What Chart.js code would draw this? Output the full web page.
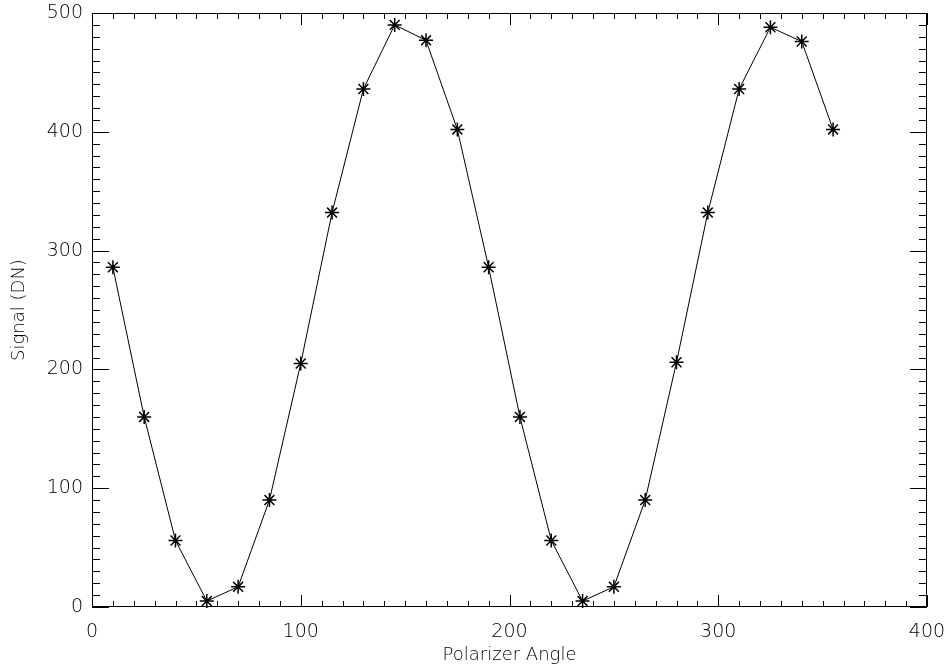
<!DOCTYPE html>
<html>
<head>
<meta charset="utf-8">
<script src="https://cdn.jsdelivr.net/npm/chart.js@4"></script>
<style>
  html, body { margin: 0; padding: 0; background: #fff; }
  canvas { display: block; }
</style>
</head>
<body>
<canvas id="polChart" width="949" height="667"></canvas>
<script>
// polarizer angle (deg) and measured signal (DN)
const angles = [10, 25, 40, 55, 70, 85, 100, 115, 130, 145, 160, 175,
                190, 205, 220, 235, 250, 265, 280, 295, 310, 325, 340, 355];
const signal = [286, 160, 56, 5, 17, 90, 205, 332, 436, 490, 477, 402,
                286, 160, 56, 5, 17, 90, 206, 332, 436, 488, 476, 402];
const xTicks = [0, 100, 200, 300, 400];
const yTicks = [0, 100, 200, 300, 400, 500];

const fontFamily = '"DejaVu Sans", sans-serif';
const inkColor = '#000';

// IDL style box with inward major/minor ticks on all four sides
const idlFrame = {
    id: 'idlFrame',
    afterDatasetsDraw(chart) {
        const ctx = chart.ctx;
        const a = chart.chartArea;
        const xs = chart.scales.x, ys = chart.scales.y;
        ctx.save();
        ctx.strokeStyle = '#000';
        ctx.lineWidth = 1;
        ctx.strokeRect(a.left + 0.5, a.top + 0.5, a.right - a.left - 1, a.bottom - a.top - 1);
        ctx.beginPath();
        for (let v = 0; v <= 400; v += 10) {
            const px = Math.round(xs.getPixelForValue(v)) + 0.5;
            const len = v % 100 === 0 ? 12 : 6;
            ctx.moveTo(px, a.bottom); ctx.lineTo(px, a.bottom - len);
            ctx.moveTo(px, a.top); ctx.lineTo(px, a.top + len);
        }
        for (let v = 0; v <= 500; v += 10) {
            const py = Math.round(ys.getPixelForValue(v)) + 0.5;
            const len = v % 100 === 0 ? 17 : 8;
            ctx.moveTo(a.left, py); ctx.lineTo(a.left + len, py);
            ctx.moveTo(a.right, py); ctx.lineTo(a.right - len, py);
        }
        ctx.stroke();
        ctx.restore();
    }
};

const ctx = document.getElementById('polChart').getContext('2d');
new Chart(ctx, {
    type: 'line',
    data: {
        datasets: [{
            data: angles.map((a, i) => ({ x: a, y: signal[i] })),
            borderColor: '#000',
            borderWidth: 1,
            pointStyle: 'star',
            pointRadius: 7,
            pointBorderWidth: 1.5,
            pointBorderColor: '#000',
            pointBackgroundColor: '#000',
            tension: 0,
            clip: false
        }]
    },
    options: {
        responsive: false,
        animation: false,
        events: [],
        layout: { padding: { top: 13, right: 22, left: 0, bottom: 0 } },
        plugins: { legend: { display: false }, tooltip: { enabled: false } },
        scales: {
            x: {
                type: 'linear',
                min: 0, max: 400,
                afterBuildTicks: s => { s.ticks = xTicks.map(v => ({ value: v })); },
                afterFit: s => { s.height = 60; s.paddingLeft = 0; s.paddingRight = 0; },
                grid: { display: false, drawTicks: false },
                border: { display: false },
                ticks: {
                    padding: 14,
                    color: inkColor,
                    font: { family: fontFamily, size: 19, weight: 200 },
                    maxRotation: 0
                },
                title: {
                    display: true,
                    text: 'Polarizer Angle',
                    color: inkColor,
                    padding: { top: 0, bottom: 1 },
                    font: { family: fontFamily, size: 18, weight: 200 }
                }
            },
            y: {
                type: 'linear',
                min: 0, max: 500,
                afterBuildTicks: s => { s.ticks = yTicks.map(v => ({ value: v })); },
                afterFit: s => { s.width = 92; s.paddingTop = 0; s.paddingBottom = 0; },
                grid: { display: false, drawTicks: false },
                border: { display: false },
                ticks: {
                    padding: 9,
                    color: inkColor,
                    font: { family: fontFamily, size: 19, weight: 200 }
                },
                title: {
                    display: true,
                    text: 'Signal (DN)',
                    color: inkColor,
                    padding: { top: 9, bottom: 0 },
                    font: { family: fontFamily, size: 18, weight: 200 }
                }
            }
        }
    },
    plugins: [idlFrame]
});
</script>
</body>
</html>
